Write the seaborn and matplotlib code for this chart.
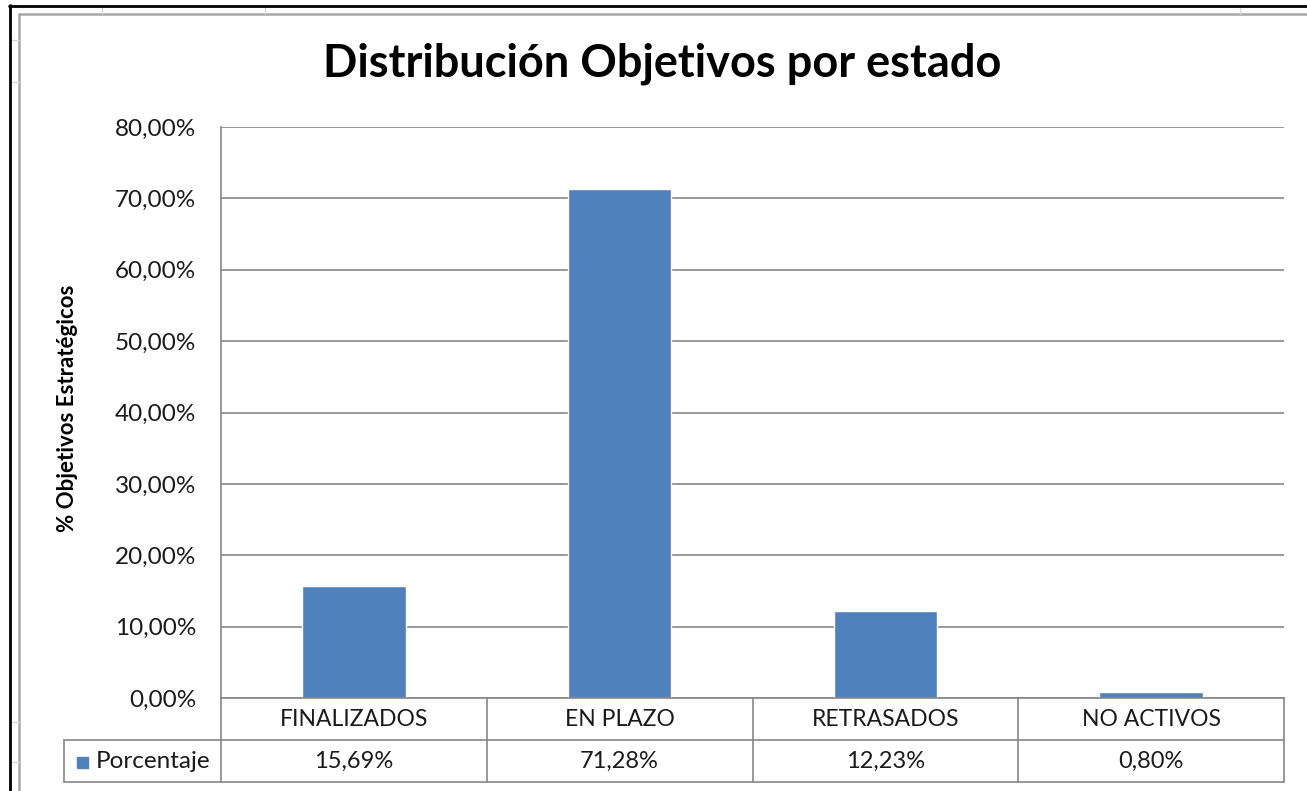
import matplotlib
matplotlib.use("Agg")
import matplotlib.pyplot as plt
import matplotlib.transforms as mtransforms
from matplotlib.lines import Line2D
from matplotlib.patches import Rectangle
import seaborn as sns
import pandas as pd

# data
categories = ["FINALIZADOS", "EN PLAZO", "RETRASADOS", "NO ACTIVOS"]
porcentaje = [15.69, 71.28, 12.23, 0.80]
series_name = "Porcentaje"
y_ticks = [0, 10, 20, 30, 40, 50, 60, 70, 80]

title = "Distribución Objetivos por estado"
ylabel = "% Objetivos Estratégicos"

bar_color = "#4F81BD"
grid_color = "#868686"
text_color = "#1a1a1a"

def pct(v):
    return f"{v:.2f}".replace(".", ",") + "%"

df = pd.DataFrame({"estado": categories, "valor": porcentaje})

sns.set_style("white")
plt.rcParams["font.family"] = ["Lato", "DejaVu Sans"]

W, H = 1307, 791
fig = plt.figure(figsize=(W / 100, H / 100), dpi=100)

# plot area in pixels
px_l, px_r, px_t, px_b = 221, 1284, 127, 698
ax = fig.add_axes([px_l / W, 1 - px_b / H, (px_r - px_l) / W, (px_b - px_t) / H])

sns.barplot(data=df, x="estado", y="valor", color=bar_color, width=0.39,
            saturation=1, ax=ax)

ax.set_ylim(0, 80)
ax.set_xlim(-0.5, len(categories) - 0.5)
ax.set_yticks(y_ticks)
ax.set_yticklabels([pct(t) for t in y_ticks], fontsize=17.5, color=text_color)
ax.tick_params(axis="y", length=0, pad=18)
ax.set_xticks(range(len(categories)))
ax.set_xticklabels([])
ax.tick_params(axis="x", length=0)
ax.set_xlabel("")
ax.set_ylabel("")
ax.yaxis.grid(True, color=grid_color, linewidth=1.2)
ax.set_axisbelow(True)
for s in ["top", "right"]:
    ax.spines[s].set_visible(False)
for s in ["left", "bottom"]:
    ax.spines[s].set_color(grid_color)
    ax.spines[s].set_linewidth(1.2)

# data table below the axis
ph = px_b - px_t
row1 = -(740 - px_b) / ph
row2 = -(782 - px_b) / ph
leg_l = (64 - px_l) / (px_r - px_l)
bt = mtransforms.blended_transform_factory(ax.transData, ax.transAxes)
lk = dict(color=grid_color, linewidth=1.2, clip_on=False)
for b in [i - 0.5 for i in range(len(categories) + 1)]:
    ax.plot([b, b], [0, row2], transform=bt, **lk)
ax.plot([leg_l, 1], [row1, row1], transform=ax.transAxes, **lk)
ax.plot([leg_l, 1], [row2, row2], transform=ax.transAxes, **lk)
ax.plot([leg_l, leg_l], [row1, row2], transform=ax.transAxes, **lk)

for i, (c, v) in enumerate(zip(categories, porcentaje)):
    ax.text(i, row1 / 2, c, transform=bt, ha="center", va="center",
            fontsize=16.5, color=text_color)
    ax.text(i, (row1 + row2) / 2, pct(v), transform=bt, ha="center",
            va="center", fontsize=17, color=text_color)

# legend key cell
fig.add_artist(Rectangle((77 / W, 1 - 768 / H), 11 / W, 11 / H,
                         transform=fig.transFigure, color=bar_color))
fig.text(96 / W, 1 - 761 / H, series_name, ha="left", va="center",
         fontsize=17.5, color=text_color)

# titles
fig.text(662 / W, 1 - 64 / H, title, ha="center", va="center",
         fontsize=32.5, fontweight="bold", color="black")
fig.text(68 / W, 1 - 408 / H, ylabel, ha="center", va="center",
         rotation=90, fontsize=16, fontweight="bold", color="black")

# chart border and sheet frame
fig.add_artist(Line2D([19 / W, 1], [1 - 14 / H, 1 - 14 / H],
                      transform=fig.transFigure, color="#a6a6a6", linewidth=1.8))
fig.add_artist(Line2D([19 / W, 19 / W], [0, 1 - 14 / H],
                      transform=fig.transFigure, color="#a6a6a6", linewidth=1.8))
for yy in [40, 82, 722, 762]:
    fig.add_artist(Line2D([10 / W, 19 / W], [1 - yy / H, 1 - yy / H],
                          transform=fig.transFigure, color="#d9d9d9", linewidth=1))
for xx in [102, 265, 1240]:
    fig.add_artist(Line2D([xx / W, xx / W], [1 - 6 / H, 1 - 14 / H],
                          transform=fig.transFigure, color="#d9d9d9", linewidth=1))
fig.add_artist(Line2D([9 / W, 1], [1 - 5.5 / H, 1 - 5.5 / H],
                      transform=fig.transFigure, color="black", linewidth=2))
fig.add_artist(Line2D([9.5 / W, 9.5 / W], [0, 1 - 5 / H],
                      transform=fig.transFigure, color="black", linewidth=2))

fig.savefig("out.png", dpi=100)
